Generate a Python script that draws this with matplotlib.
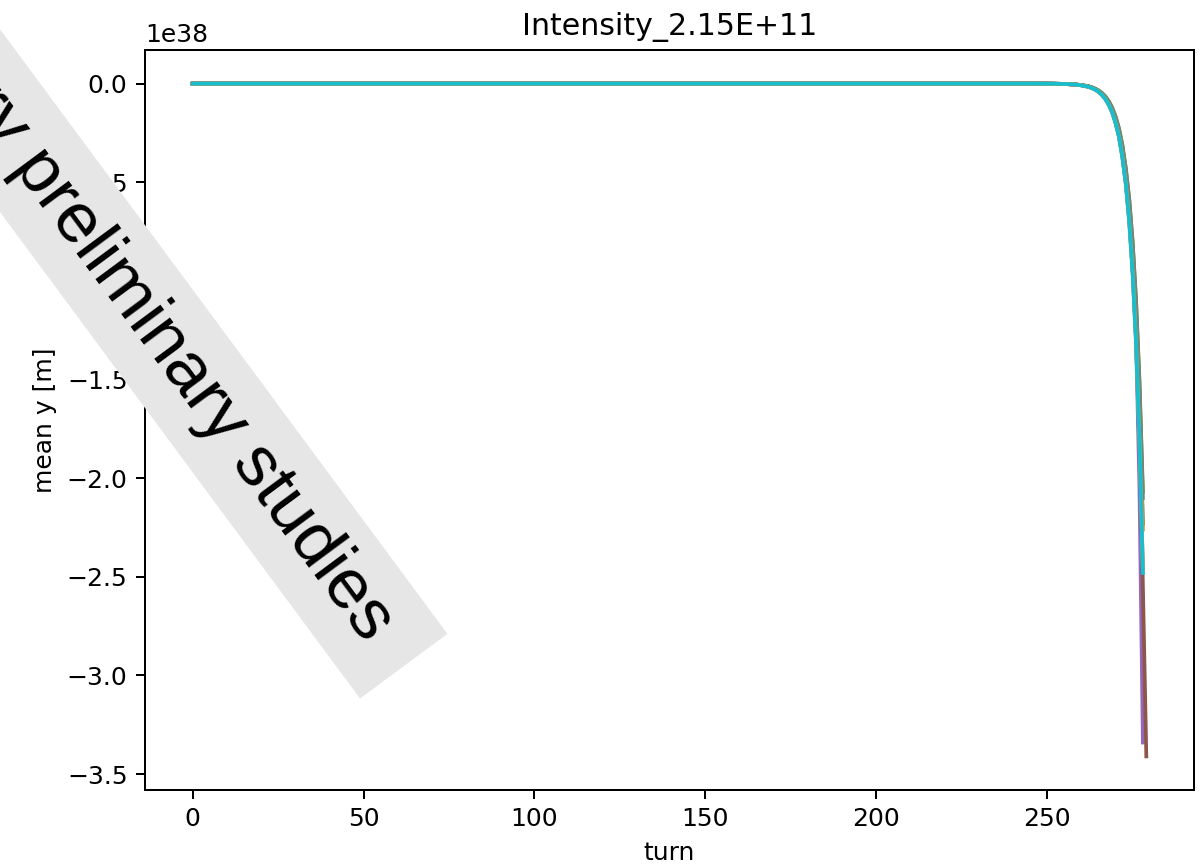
import numpy as np
import matplotlib
matplotlib.use("Agg")
import matplotlib.pyplot as plt

# turns at which values are given (flat at zero before the blow-up)
turns = [0, 250, 255, 258, 260, 262, 263, 264, 265, 266, 267, 268, 269, 270,
         271, 272, 273, 274, 275, 276, 277, 278, 279]
nan = float("nan")
# mean y values in units of 1e38 m (negative blow-up); nan after overflow
s0 = [0, 0, -0.0015, -0.004, -0.0076, -0.014, -0.020, -0.027, -0.037, -0.051, -0.070, -0.096, -0.131, -0.180, -0.245, -0.337, -0.46, -0.63, -0.87, -1.19, -1.63, -2.23, nan]
s1 = [0, 0, -0.0015, -0.004, -0.0077, -0.014, -0.020, -0.027, -0.038, -0.052, -0.071, -0.097, -0.133, -0.183, -0.249, -0.342, -0.47, -0.64, -0.88, -1.21, -1.65, -2.26, nan]
s2 = [0, 0, -0.0014, -0.0038, -0.0072, -0.013, -0.018, -0.025, -0.034, -0.047, -0.064, -0.088, -0.121, -0.166, -0.226, -0.311, -0.43, -0.585, -0.80, -1.10, -1.51, -2.07, nan]
s3 = [0, 0, -0.0016, -0.0042, -0.008, -0.015, -0.021, -0.028, -0.039, -0.054, -0.074, -0.101, -0.139, -0.19, -0.26, -0.357, -0.49, -0.67, -0.92, -1.26, -1.88, -2.79, nan]
s4 = [0, 0, -0.0016, -0.0043, -0.0082, -0.015, -0.021, -0.029, -0.040, -0.055, -0.076, -0.104, -0.142, -0.195, -0.266, -0.365, -0.50, -0.685, -0.94, -1.29, -2.05, -3.34, nan]
s5 = [0, 0, -0.0016, -0.0043, -0.0082, -0.015, -0.021, -0.029, -0.040, -0.055, -0.076, -0.104, -0.142, -0.195, -0.266, -0.365, -0.50, -0.685, -0.94, -1.29, -1.77, -2.55, -3.41]
s6 = [0, 0, -0.0017, -0.0045, -0.0084, -0.016, -0.022, -0.030, -0.041, -0.056, -0.077, -0.106, -0.145, -0.198, -0.268, -0.372, -0.505, -0.695, -0.955, -1.31, -1.80, -2.46, nan]
s7 = [0, 0, -0.0014, -0.0038, -0.0073, -0.013, -0.018, -0.025, -0.035, -0.048, -0.066, -0.090, -0.123, -0.169, -0.230, -0.316, -0.43, -0.59, -0.81, -1.11, -1.53, -2.10, nan]
s8 = [0, 0, -0.0017, -0.0045, -0.0084, -0.016, -0.022, -0.030, -0.041, -0.056, -0.077, -0.106, -0.145, -0.198, -0.268, -0.372, -0.505, -0.695, -0.955, -1.31, -1.80, -2.46, nan]
s9 = [0, 0, -0.0017, -0.0045, -0.0085, -0.016, -0.022, -0.030, -0.041, -0.057, -0.078, -0.107, -0.146, -0.20, -0.27, -0.375, -0.51, -0.70, -0.965, -1.32, -1.81, -2.48, nan]
series = [s0, s1, s2, s3, s4, s5, s6, s7, s8, s9]
scale = 1e38

title = "Intensity_2.15E+11"
xlabel = "turn"
ylabel = "mean y [m]"
watermark = "Very preliminary studies "

fig = plt.figure(figsize=(1203 / 180, 868 / 180), dpi=180)
ax = fig.add_axes([145 / 1203, 78 / 868, (1194 - 145) / 1203, (790 - 50) / 868])

t = np.array(turns, dtype=float)
for s in series:
    ax.plot(t, np.array(s, dtype=float) * scale)

ax.set_xticks([0, 50, 100, 150, 200, 250])
ax.set_yticks(np.arange(-3.5, 0.01, 0.5) * scale)
ax.set_title(title)
ax.set_xlabel(xlabel)
ax.set_ylabel(ylabel)

fig.text(391 / 1203, 219 / 868, watermark, fontsize=28.5, family="Liberation Sans",
         rotation=-53.5, rotation_mode="anchor", ha="right", va="center",
         bbox=dict(boxstyle="square,pad=0.3", facecolor="#e6e6e6", edgecolor="none"),
         zorder=10)

fig.savefig("out.png", dpi=180)
